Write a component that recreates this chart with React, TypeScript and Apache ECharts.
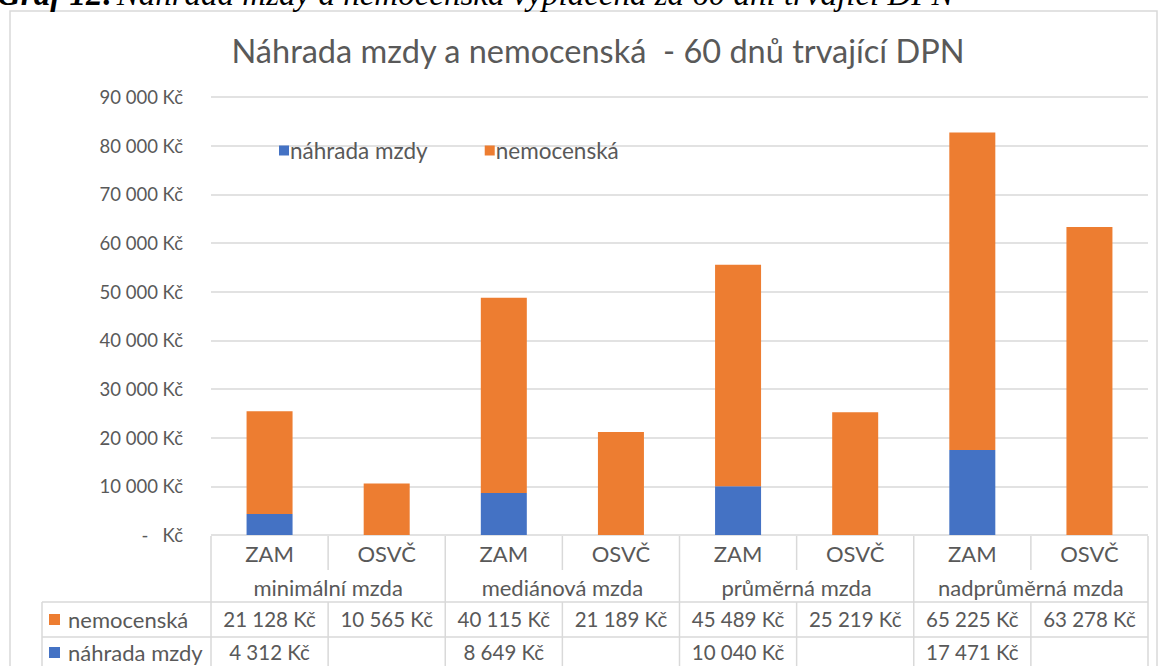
import React, { useEffect, useRef } from "react";
import * as echarts from "echarts";

const categories = ["ZAM", "OSVČ", "ZAM", "OSVČ", "ZAM", "OSVČ", "ZAM", "OSVČ"];
const groups = ["minimální mzda", "mediánová mzda", "průměrná mzda", "nadprůměrná mzda"];
const nahradaMzdy: (number | null)[] = [4312, null, 8649, null, 10040, null, 17471, null];
const nemocenska: number[] = [21128, 10565, 40115, 21189, 45489, 25219, 65225, 63278];
const yTicks = [0, 10000, 20000, 30000, 40000, 50000, 60000, 70000, 80000, 90000];

const BLUE = "#4472C4";
const ORANGE = "#ED7D31";
const TXT = "#595959";
const LINE = "#d9d9d9";
const FONT = "Lato, 'Open Sans', sans-serif";

const fmt = (v: number | null) => {
  if (v === null || v === undefined) return "";
  if (v === 0) return "-   Kč";
  return String(v).replace(/\B(?=(\d{3})+(?!\d))/g, "\u00a0") + "\u00a0Kč";
};

export default function App() {
  const ref = useRef<HTMLDivElement>(null);
  useEffect(() => {
    if (!ref.current) return;
    const chart = echarts.init(ref.current, null, { renderer: "svg" });
    const L = 211, R = 1148, T = 97, B = 535;
    const cw = (R - L) / categories.length;
    const yAxisTop = 536, rowGroupTop = 570, row1 = 602, row2 = 637, bottomEdge = 666, legLeft = 42;
    const g: any[] = [];
    const ln = (x1: number, y1: number, x2: number, y2: number) =>
      g.push({ type: "line", silent: true, shape: { x1, y1, x2, y2 }, style: { stroke: LINE, lineWidth: 1.5 } });
    const tx = (text: string, x: number, y: number, align = "center", size = 19) =>
      g.push({ type: "text", silent: true, x, y, style: { text, x: 0, y: 0, fill: TXT, font: `${size}px ${FONT}`, textAlign: align, textVerticalAlign: "middle" } });
    // frame
    g.push({ type: "rect", silent: true, shape: { x: 10, y: 11, width: 1147, height: 700 }, style: { fill: "none", stroke: LINE, lineWidth: 1.5 } });
    // caption (cut off at top, as in the source)
    g.push({
      type: "text", silent: true, x: -3, y: -6,
      style: {
        text: "{b|Graf 12:} {i|Náhrada mzdy a nemocenská vyplacená za 60 dní trvající DPN}",
        x: 0, y: 0, textVerticalAlign: "middle",
        rich: {
          b: { font: "italic bold 33px 'Liberation Serif', serif", fill: "#000" },
          i: { font: "italic 33px 'Liberation Serif', serif", fill: "#000" },
        },
      },
    });
    // table lines
    ln(L, yAxisTop, L, bottomEdge);
    ln(R, yAxisTop, R, bottomEdge);
    for (let i = 1; i < categories.length; i++) {
      const x = L + cw * i;
      if (i % 2 === 0) ln(x, yAxisTop, x, bottomEdge);
      else {
        ln(x, yAxisTop, x, rowGroupTop);
        ln(x, row1, x, bottomEdge);
      }
    }
    ln(legLeft, row1, R, row1);
    ln(legLeft, row2, R, row2);
    ln(legLeft, row1, legLeft, bottomEdge);
    // table text
    categories.forEach((c, i) => tx(c, L + cw * (i + 0.5), 553, "center", 22));
    groups.forEach((gr, i) => tx(gr, L + cw * (2 * i + 1), 587, "center", 22));
    const r1y = 619, r2y = 652;
    nemocenska.forEach((v, i) => tx(fmt(v), L + cw * (i + 0.5), r1y, "center", 20.5));
    nahradaMzdy.forEach((v, i) => tx(fmt(v), L + cw * (i + 0.5), r2y, "center", 20.5));
    g.push({ type: "rect", silent: true, shape: { x: 49, y: r1y - 5, width: 11, height: 11 }, style: { fill: ORANGE } });
    g.push({ type: "rect", silent: true, shape: { x: 49, y: r2y - 5, width: 11, height: 11 }, style: { fill: BLUE } });
    tx("nemocenská", 68, r1y, "left", 22);
    tx("náhrada mzdy", 68, r2y, "left", 22);

    chart.setOption({
      animation: false,
      backgroundColor: "#fff",
      title: {
        text: "Náhrada mzdy a nemocenská  - 60 dnů trvající DPN",
        left: 593, top: 29, textAlign: "center",
        textStyle: { fontFamily: FONT, fontSize: 32.5, fontWeight: "normal", color: TXT },
      },
      legend: {
        left: 274, top: 134, icon: "rect", itemWidth: 10, itemHeight: 10, itemGap: 57,
        textStyle: { fontFamily: FONT, fontSize: 22.5, color: TXT, padding: [0, 0, 0, -4] },
        data: ["náhrada mzdy", "nemocenská"],
      },
      grid: { left: L, right: 1164 - R, top: T, bottom: 666 - B, containLabel: false },
      xAxis: {
        type: "category", data: categories,
        axisLine: { show: false }, axisTick: { show: false }, axisLabel: { show: false },
      },
      yAxis: {
        type: "value", min: 0, max: yTicks[yTicks.length - 1], interval: 10000,
        axisLine: { show: false }, axisTick: { show: false },
        splitLine: { lineStyle: { color: LINE, width: 1.5 } },
        axisLabel: { fontFamily: FONT, fontSize: 18.5, color: TXT, margin: 28, formatter: (v: number) => fmt(v) },
      },
      series: [
        { name: "náhrada mzdy", type: "bar", stack: "a", barWidth: 46, data: nahradaMzdy, itemStyle: { color: BLUE } },
        { name: "nemocenská", type: "bar", stack: "a", barWidth: 46, data: nemocenska, itemStyle: { color: ORANGE } },
      ],
      graphic: g,
    });
    return () => chart.dispose();
  }, []);
  return <div ref={ref} style={{ position: "fixed", left: 0, top: 0, width: 1164, height: 666 }} />;
}
